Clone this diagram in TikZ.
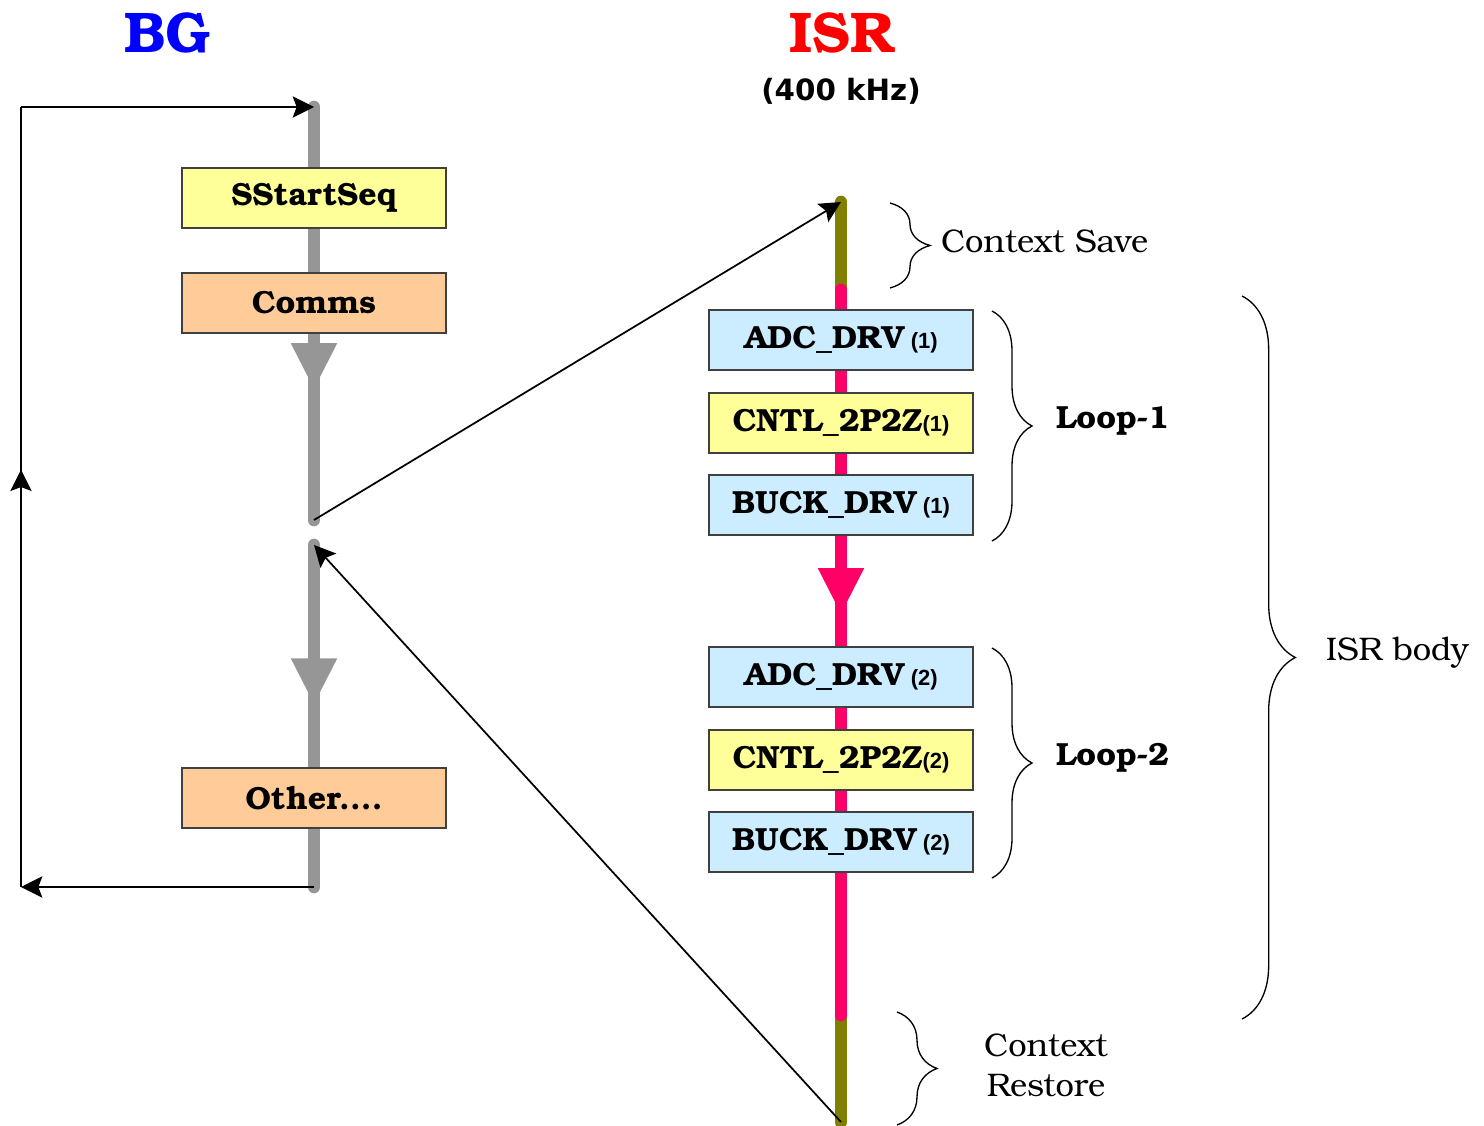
\documentclass[tikz,border=0pt]{standalone}
\usepackage{fontspec}
\setmainfont{texgyrebonum}[Extension=.otf, UprightFont=*-regular, BoldFont=*-bold, ItalicFont=*-italic, BoldItalicFont=*-bolditalic]
\newfontfamily\sansfnt{DejaVu Sans}
\newfontfamily\subfnt{Liberation Sans}
\usetikzlibrary{arrows.meta,decorations.pathreplacing,decorations.markings}
\definecolor{bgblue}{RGB}{0,0,255}
\definecolor{isrred}{RGB}{255,0,0}
\definecolor{flowgray}{RGB}{150,150,150}
\definecolor{isrpink}{RGB}{255,0,102}
\definecolor{isrolive}{RGB}{128,128,0}
\definecolor{boxblue}{RGB}{204,236,255}
\definecolor{boxyellow}{RGB}{255,255,153}
\definecolor{boxorange}{RGB}{255,204,153}
\newcommand{\subn}[1]{{\subfnt\bfseries\fontsize{16.5}{16.5}\selectfont #1}}
\begin{document}
\begin{tikzpicture}[x=0.75pt,y=-0.75pt,
  every node/.style={inner sep=0pt,outer sep=0pt},
  taskbox/.style={draw=black!75,line width=0.8pt,minimum width=198pt,minimum height=45pt,
    font=\fontsize{24}{27}\selectfont\bfseries},
  bluebox/.style={taskbox,fill=boxblue},
  yellowbox/.style={taskbox,fill=boxyellow},
  orangebox/.style={taskbox,fill=boxorange},
  grayflow/.style={line width=9.5pt,color=flowgray,line cap=round},
  pinkflow/.style={line width=9.5pt,color=isrpink,line cap=round},
  oliveflow/.style={line width=9.5pt,color=isrolive,line cap=round},
  thinlink/.style={line width=1.3pt,black},
  tipend/.style={thinlink,-{Stealth[length=16pt,width=16pt,inset=3pt]}},
  midtip/.style={postaction={decorate},decoration={markings,
     mark=at position #1 with {\arrow{Stealth[length=16pt,width=16pt,inset=3pt]}}}},
  bigtip/.style 2 args={postaction={decorate},decoration={markings,
     mark=at position #1 with {\arrow[#2]{Triangle[length=35pt,width=32pt]}}}},
  curly/.style={decorate,decoration={brace,amplitude=#1},line width=1pt},
  note/.style={font=\fontsize{24.5}{30}\selectfont},
  boldnote/.style={font=\fontsize{24}{30}\selectfont\bfseries},
]
\useasboundingbox (0,0) rectangle (1484,1126);

% coordinates
\coordinate (g1) at (314,107);
\coordinate (g2) at (314,520);
\coordinate (g3) at (314,545);
\coordinate (g4) at (314,887);
\coordinate (c1) at (21,887);
\coordinate (c2) at (21,107);
\coordinate (i1) at (841,202);
\coordinate (i2) at (841,290);
\coordinate (i3) at (841,1015);
\coordinate (i4) at (841,1122);

% titles
\node[font=\fontsize{43}{48}\selectfont\bfseries,text=bgblue] (bgt) at (167,33) {BG};
\node[font=\fontsize{43}{48}\selectfont\bfseries,text=isrred] (isrt) at (842,33) {ISR};
\node[font=\sansfnt\bfseries\fontsize{22}{24}\selectfont] (freq) at (841,91) {(400 kHz)};

% BG flow
\draw[grayflow,bigtip={0.685}{flowgray}] (g1) -- (g2);
\draw[grayflow,bigtip={0.468}{flowgray}] (g3) -- (g4);

% ISR flow
\draw[oliveflow] (i1) -- (i2);
\draw[oliveflow] (i3) -- (i4);
\draw[pinkflow,bigtip={0.448}{isrpink}] (i2) -- (i3);

% BG boxes
\node[yellowbox] (ss) at (314,198) {SStartSeq};
\node[orangebox] (comms) at (314,303) {Comms};
\node[orangebox] (other) at (314,798) {Other....};

% ISR boxes
\node[bluebox] (adc1) at (841,340) {ADC\_DRV\subn{ (1)}};
\node[yellowbox] (cntl1) at (841,423) {CNTL\_2P2Z\subn{(1)}};
\node[bluebox] (buck1) at (841,505) {BUCK\_DRV\subn{ (1)}};
\node[bluebox] (adc2) at (841,677) {ADC\_DRV\subn{ (2)}};
\node[yellowbox] (cntl2) at (841,760) {CNTL\_2P2Z\subn{(2)}};
\node[bluebox] (buck2) at (841,842) {BUCK\_DRV\subn{ (2)}};

% loop back
\draw[tipend] (g4) -- (c1);
\draw[thinlink,midtip={0.535}] (c1) -- (c2);
\draw[tipend] (c2) -- (g1);

% links to / from ISR
\draw[tipend] (g2) -- (i1);
\draw[tipend] (i4) -- (g3);

% braces
\coordinate (b1a) at (890,203); \coordinate (b1b) at (890,288);
\coordinate (b2a) at (992,311); \coordinate (b2b) at (992,541);
\coordinate (b3a) at (992,648); \coordinate (b3b) at (992,878);
\coordinate (b4a) at (1242,296); \coordinate (b4b) at (1242,1019);
\coordinate (b5a) at (897,1012); \coordinate (b5b) at (897,1125);
\draw[curly=30pt] (b1a) -- (b1b);
\draw[curly=30pt] (b2a) -- (b2b);
\draw[curly=30pt] (b3a) -- (b3b);
\draw[curly=40pt] (b4a) -- (b4b);
\draw[curly=30pt] (b5a) -- (b5b);

% labels
\node[note,anchor=west] (csave) at (941,241) {Context Save};
\node[boldnote,anchor=west] (loop1) at (1056,421) {Loop-1};
\node[boldnote,anchor=west] (loop2) at (1056,758) {Loop-2};
\node[note,anchor=west] (body) at (1326,653) {ISR body};
\node[note,align=center] (crest) at (1046,1065) {Context\\Restore};
\end{tikzpicture}
\end{document}
